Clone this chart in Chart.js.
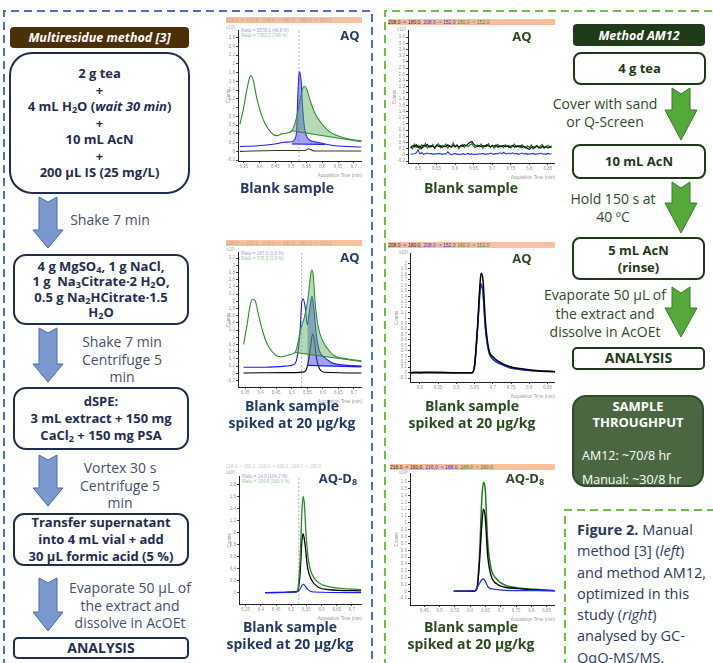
<!DOCTYPE html>
<html>
<head>
<meta charset="utf-8">
<script src="https://cdn.jsdelivr.net/npm/chart.js@4.4.0/dist/chart.umd.min.js"></script>
<style>
  body { margin: 0; width: 713px; height: 663px; position: relative; overflow: hidden; background: #fff;
         font-family: "Open Sans", "Noto Sans", sans-serif; }
  canvas { position: absolute; }
  .c { position: absolute; transform: translate(-50%, -50%); white-space: nowrap; text-align: center; }
  .box { position: absolute; box-sizing: border-box; border: 2px solid #1f2d50; display: flex; align-items: center;
         justify-content: center; text-align: center; font-weight: 700; color: #1f2d50; font-size: 13px; line-height: 16.5px; background: #fff; }
  .gbox { border-color: #1d3a17; color: #1d3a17; border-radius: 8px; }
  .hdr { position: absolute; color: #fff; font-weight: 700; font-style: italic; font-size: 12.5px; display: flex;
         align-items: center; justify-content: center; border-radius: 4px; }
  .step { color: #44506c; font-size: 14px; line-height: 17.5px; }
  .gstep { color: #2d4b27; font-size: 14px; line-height: 17.5px; }
  .cap { color: #233a66; font-weight: 700; font-size: 14px; line-height: 17px; }
  .gcap { color: #2a4a1f; font-weight: 700; font-size: 14px; line-height: 17px; }
  .bar { position: absolute; height: 6px; background: #f9c0a0; font: 5px "Liberation Sans", sans-serif; line-height: 6px; white-space: nowrap; overflow: hidden; }
  .tiny { position: absolute; font: 4.5px "Liberation Sans", sans-serif; white-space: nowrap; line-height: 5px; }
  sub { font-size: 0.7em; vertical-align: -0.25em; line-height: 0; }
  sup { font-size: 0.7em; vertical-align: 0.4em; line-height: 0; }
</style>
</head>
<body>

<svg width="713" height="663" style="position:absolute;left:0;top:0">
  <g fill="none" stroke-width="2" stroke-dasharray="8 5">
    <path d="M4 680 V11 H372 V680" stroke="#4472c4"/>
    <path d="M385 680 V11 H720" stroke="#6cbf4a"/>
    <path d="M565 680 V510 H720" stroke="#6cbf4a"/>
  </g>
  <g fill="#7b97cf" stroke="#4d6ba6" stroke-width="1">
    <polygon points="39,197 48,202 57,197 57,230 63,230 48,248 33,230 39,230"/>
    <polygon points="39,328 48,333 57,328 57,364 63,364 48,382 33,364 39,364"/>
    <polygon points="39,455 48,460 57,455 57,488 63,488 48,506 33,488 39,488"/>
    <polygon points="39,578 48,583 57,578 57,612 63,612 48,631 33,612 39,612"/>
  </g>
  <g fill="#55a83a" stroke="#3b7a28" stroke-width="1">
    <polygon points="672,88 681,94 690,88 690,110 697,110 681,140 665,110 672,110"/>
    <polygon points="672,182 681,188 690,182 690,203 697,203 681,233 665,203 672,203"/>
    <polygon points="672,287 681,293 690,287 690,308 697,308 681,337 665,308 672,308"/>
  </g>
</svg>

<!-- left flow -->
<div class="hdr" style="left:10px;top:27px;width:179px;height:21px;background:#4b2f06">Multiresidue method [3]</div>
<div class="box" style="left:9px;top:52px;width:181px;height:142px;border-radius:23px">
  <div>2 g tea<br>+<br>4 mL H<sub>2</sub>O (<i>wait 30 min</i>)<br>+<br>10 mL AcN<br>+<br>200 µL IS (25 mg/L)</div></div>
<div class="c step" style="left:110px;top:220px">Shake 7 min</div>
<div class="box" style="left:13px;top:254px;width:176px;height:71px;border-radius:13px;line-height:15.5px">
  <div>4 g MgSO<sub>4</sub>, 1 g NaCl,<br>1 g&nbsp; Na<sub>3</sub>Citrate·2 H<sub>2</sub>O,<br>0.5 g Na<sub>2</sub>HCitrate·1.5<br>H<sub>2</sub>O</div></div>
<div class="c step" style="left:122px;top:359px">Shake 7 min<br>Centrifuge 5<br>min</div>
<div class="box" style="left:13px;top:387px;width:176px;height:63px;border-radius:13px;line-height:17px">
  <div>dSPE:<br>3 mL extract + 150 mg<br>CaCl<sub>2</sub> + 150 mg PSA</div></div>
<div class="c step" style="left:120px;top:485px">Vortex 30 s<br>Centrifuge 5<br>min</div>
<div class="box" style="left:13px;top:513px;width:176px;height:53px;border-radius:11px;line-height:17px">
  <div>Transfer supernatant<br>into 4 mL vial + add<br>30 µL formic acid (5 %)</div></div>
<div class="c step" style="left:130px;top:605px">Evaporate 50 µL of<br>the extract and<br>dissolve in AcOEt</div>
<div class="box" style="left:13px;top:637px;width:176px;height:22px;border-radius:5px;font-size:14px">ANALYSIS</div>

<!-- right flow -->
<div class="hdr" style="left:573px;top:24px;width:132px;height:22px;background:#1e3a18">Method AM12</div>
<div class="box gbox" style="left:573px;top:52px;width:133px;height:33px">4 g tea</div>
<div class="c gstep" style="left:605px;top:112px">Cover with sand<br>or Q-Screen</div>
<div class="box gbox" style="left:572px;top:144px;width:134px;height:35px">10 mL AcN</div>
<div class="c gstep" style="left:613px;top:207px">Hold 150 s at<br>40 ºC</div>
<div class="box gbox" style="left:572px;top:237px;width:133px;height:43px;line-height:17px">5 mL AcN<br>(rinse)</div>
<div class="c gstep" style="left:605px;top:314px;line-height:18.5px">Evaporate 50 µL of<br>the extract and<br>dissolve in AcOEt</div>
<div class="box gbox" style="left:572px;top:347px;width:133px;height:23px;border-radius:5px;font-size:14px">ANALYSIS</div>

<div style="position:absolute;left:572px;top:395px;width:132px;height:92px;box-sizing:border-box;background:#4a6741;border:2px solid #2f4b28;border-radius:14px;color:#fff">
  <div style="position:absolute;left:0;right:0;top:1px;text-align:center;font-weight:700;font-size:13px;line-height:16px">SAMPLE<br>THROUGHPUT</div>
  <div style="position:absolute;left:8px;top:47px;font-size:12.5px;line-height:24px;white-space:nowrap">AM12: ~70/8 hr<br>Manual: ~30/8 hr</div>
</div>

<div style="position:absolute;left:577px;top:519px;color:#2b3a5c;font-size:14.5px;line-height:21.3px;white-space:nowrap">
  <b>Figure 2.</b> Manual<br>method [3] (<i>left</i>)<br>and method AM12,<br>optimized in this<br>study (<i>right</i>)<br>analysed by GC-<br>QqQ-MS/MS.
</div>

<!-- chromatogram decorations -->
<div class="bar" style="left:226px;top:17px;width:136px;color:#c9a58f">208,0 -&gt; 152,0 , 208,0 -&gt; 180,0 , 180,0 -&gt; 152,0</div>
<div class="bar" style="left:226px;top:240px;width:136px;color:#c9a58f">208,0 -&gt; 152,0 , 208,0 -&gt; 180,0 , 180,0 -&gt; 152,0</div>
<div class="tiny" style="left:226px;top:464px;color:#c8c8c8">216,0 -&gt; 160,0 , 218,0 -&gt; 168,0 , 168,0 -&gt; 160,0</div>
<div class="bar" style="left:388px;top:19px;width:167px"><span style="color:#222">208.0 -&gt; 180.0,</span> <span style="color:#3333cc">208.0 -&gt; 152.0</span> <span style="color:#2a8a2a">180.0 -&gt; 152.0</span></div>
<div class="bar" style="left:388px;top:242px;width:167px"><span style="color:#222">208.0 -&gt; 180.0,</span> <span style="color:#3333cc">208.0 -&gt; 152.0</span> <span style="color:#2a8a2a">180.0 -&gt; 152.0</span></div>
<div class="bar" style="left:390px;top:464px;width:165px"><span style="color:#222">216.0 -&gt; 160.0,</span> <span style="color:#3333cc">216.0 -&gt; 188.0,</span> <span style="color:#2a8a2a">188.0 -&gt; 160.0</span></div>

<div class="tiny" style="left:226px;top:25px;color:#aaa">x10<sup>5</sup></div>
<div class="tiny" style="left:226px;top:247px;color:#aaa">x10<sup>5</sup></div>
<div class="tiny" style="left:226px;top:470px;color:#aaa">x10<sup>5</sup></div>
<div class="tiny" style="left:397px;top:27px;color:#999">x10<sup>3</sup></div>
<div class="tiny" style="left:399px;top:250px;color:#999">x10<sup>5</sup></div>
<div class="tiny" style="left:399px;top:470px;color:#999">x10<sup>5</sup></div>

<div class="tiny" style="left:241px;top:28px;color:#a0a0f0">Ratio = 5578,3 (48,8 %)</div>
<div class="tiny" style="left:241px;top:33px;color:#9cc89c">Ratio = 7363,2 (748 %)</div>
<div class="tiny" style="left:241px;top:251px;color:#a0a0f0">Ratio = 187,0 (1,6 %)</div>
<div class="tiny" style="left:241px;top:256px;color:#9cc89c">Ratio = 378,3 (3,8 %)</div>
<div class="tiny" style="left:242px;top:474px;color:#a0a0f0">Ratio = 14,0 (104,2 %)</div>
<div class="tiny" style="left:242px;top:479px;color:#9cc89c">Ratio = 154,8 (100,9 %)</div>

<canvas id="m3Blank" width="136" height="151" style="left:226px;top:27px"></canvas>
<canvas id="m3Spiked" width="136" height="155" style="left:226px;top:249px"></canvas>
<canvas id="m3D8" width="135" height="148" style="left:227px;top:473px"></canvas>
<canvas id="amBlank" width="163" height="153" style="left:392px;top:27px"></canvas>
<canvas id="amSpiked" width="161" height="149" style="left:394px;top:250px"></canvas>
<canvas id="amD8" width="161" height="152" style="left:394px;top:470px"></canvas>

<div class="c cap" style="left:350px;top:35px;font-size:13px">AQ</div>
<div class="c cap" style="left:350px;top:257px;font-size:13px">AQ</div>
<div class="c cap" style="left:338px;top:478px;font-size:13px">AQ-D<sub>8</sub></div>
<div class="c gcap" style="left:522px;top:36px;font-size:13px">AQ</div>
<div class="c gcap" style="left:522px;top:258px;font-size:13px">AQ</div>
<div class="c gcap" style="left:525px;top:478px;font-size:13px">AQ-D<sub>8</sub></div>

<div class="c cap" style="left:287px;top:187px">Blank sample</div>
<div class="c cap" style="left:292px;top:414px">Blank sample<br>spiked at 20 µg/kg</div>
<div class="c cap" style="left:290px;top:635px">Blank sample<br>spiked at 20 µg/kg</div>
<div class="c gcap" style="left:471px;top:187px">Blank sample</div>
<div class="c gcap" style="left:472px;top:414px">Blank sample<br>spiked at 20 µg/kg</div>
<div class="c gcap" style="left:471px;top:635px">Blank sample<br>spiked at 20 µg/kg</div>

<script>
// ---- Multiresidue method [3] (left) : [time, counts] ----
const m3BlankGreen = [[6.337,0.62],[6.348,0.96],[6.359,1.4],[6.369,1.71],[6.372,1.73],[6.38,1.62],[6.39,1.24],[6.404,0.87],
  [6.417,0.64],[6.438,0.42],[6.454,0.36],[6.47,0.4],[6.486,0.42],[6.502,0.47],[6.512,0.62],[6.525,1.02],[6.536,1.42],
  [6.542,1.49],[6.55,1.42],[6.56,1.18],[6.576,0.87],[6.597,0.64],[6.619,0.47],[6.64,0.38],[6.68,0.29],[6.724,0.24]];
const m3BlankGreenBase = [[6.502,0.47],[6.724,0.22]];
const m3BlankBlue = [[6.337,0.11],[6.395,0.13],[6.448,0.17],[6.48,0.21],[6.502,0.22],[6.512,0.28],[6.518,0.5],[6.521,1.17],
  [6.525,1.73],[6.527,1.82],[6.532,1.62],[6.536,1.1],[6.542,0.58],[6.555,0.28],[6.576,0.22],[6.608,0.17],[6.64,0.13],[6.724,0.1]];
const m3BlankBlueBase = [[6.502,0.17],[6.608,0.16]];
const m3BlankBlack = [[6.337,0.0],[6.448,0.02],[6.545,0.02],[6.555,0.06],[6.563,0.04],[6.576,0.01],[6.64,0.01],[6.724,0.01]];

const m3SpikedGreen = [[6.345,0.8],[6.356,1.34],[6.366,1.88],[6.373,2.05],[6.382,2.02],[6.392,1.66],[6.405,1.21],[6.419,0.85],
  [6.435,0.62],[6.451,0.49],[6.467,0.46],[6.483,0.49],[6.499,0.53],[6.511,0.58],[6.52,0.85],[6.528,1.21],[6.541,1.57],
  [6.552,2.06],[6.56,2.69],[6.564,2.87],[6.569,2.74],[6.575,1.97],[6.584,1.34],[6.6,0.89],[6.621,0.62],[6.637,0.49],
  [6.68,0.4],[6.724,0.35]];
const m3SpikedGreenBase = [[6.511,0.58],[6.724,0.33]];
const m3SpikedBlue = [[6.345,0.17],[6.415,0.17],[6.479,0.2],[6.505,0.24],[6.515,0.35],[6.526,1.07],[6.533,2.02],[6.537,2.06],
  [6.544,1.79],[6.55,1.34],[6.558,1.79],[6.565,2.14],[6.571,1.79],[6.579,1.07],[6.589,0.62],[6.605,0.44],[6.626,0.31],
  [6.637,0.27],[6.724,0.2]];
const m3SpikedBlueBase = [[6.55,0.22],[6.724,0.18]];
const m3SpikedBlack = [[6.345,0.01],[6.499,0.02],[6.541,0.04],[6.552,0.26],[6.56,0.71],[6.567,1.09],[6.573,0.89],[6.579,0.44],
  [6.589,0.13],[6.605,0.03],[6.724,0.01]];

const m3D8Green = [[6.414,0],[6.512,0.005],[6.521,0.04],[6.529,0.52],[6.535,1.33],[6.539,1.6],[6.543,1.49],[6.549,0.95],
  [6.557,0.52],[6.568,0.31],[6.589,0.17],[6.622,0.1],[6.644,0.08],[6.73,0.05]];
const m3D8Black = [[6.414,0],[6.521,0.02],[6.529,0.31],[6.535,0.85],[6.539,0.98],[6.545,0.82],[6.554,0.41],[6.568,0.2],
  [6.589,0.09],[6.622,0.05],[6.73,0.03]];
const m3D8Blue = [[6.414,0],[6.519,0.01],[6.529,0.06],[6.537,0.13],[6.541,0.14],[6.547,0.1],[6.557,0.04],[6.573,0.01],[6.73,0]];

const m3RetentionTimes = [6.525, 6.532, 6.525];
const m3XTicks = [6.35, 6.4, 6.45, 6.5, 6.55, 6.6, 6.65, 6.7];
const m3BlankYTicks = [-0.2, 0, 0.2, 0.4, 0.6, 0.8, 1, 1.2, 1.4, 1.6, 1.8, 2, 2.2, 2.4, 2.6];
const m3SpikedYTicks = [-0.2, 0, 0.2, 0.4, 0.6, 0.8, 1, 1.2, 1.4, 1.6, 1.8, 2, 2.2, 2.4, 2.6, 2.8, 3, 3.2];
const m3D8YTicks = [0, 0.2, 0.4, 0.6, 0.8, 1, 1.2, 1.4, 1.6, 1.8];

// ---- Method AM12 (right) ----
const amBlankTimes = [6.480,6.485,6.490,6.495,6.500,6.505,6.510,6.515,6.520,6.525,
  6.530,6.535,6.540,6.545,6.550,6.555,6.560,6.565,6.570,6.575,
  6.580,6.585,6.590,6.595,6.600,6.605,6.610,6.615,6.620,6.625,
  6.630,6.635,6.640,6.645,6.650,6.655,6.660,6.665,6.670,6.675,
  6.680,6.685,6.690,6.695,6.700,6.705,6.710,6.715,6.720,6.725,
  6.730,6.735,6.740,6.745,6.750,6.755,6.760,6.765,6.770,6.775,
  6.780,6.785,6.790,6.795,6.800,6.805,6.810,6.815,6.820,6.825,
  6.830,6.835,6.840,6.845,6.850,6.855,6.860];
const amBlankBlack = [0.22,0.30,0.26,0.33,0.24,0.29,0.21,0.31,0.27,0.34,
  0.25,0.30,0.28,0.23,0.32,0.27,0.30,0.24,0.29,0.26,
  0.33,0.28,0.25,0.31,0.27,0.32,0.26,0.30,0.28,0.33,
  0.30,0.36,0.41,0.43,0.35,0.30,0.27,0.31,0.26,0.30,
  0.28,0.33,0.29,0.26,0.31,0.28,0.32,0.25,0.29,0.27,
  0.31,0.26,0.30,0.24,0.28,0.31,0.25,0.29,0.27,0.30,
  0.24,0.28,0.26,0.21,0.18,0.24,0.27,0.23,0.29,0.25,
  0.22,0.28,0.24,0.27,0.22,0.26,0.24];
const amBlankGreen = [0.27,0.20,0.35,0.24,0.31,0.19,0.33,0.26,0.37,0.22,
  0.30,0.25,0.34,0.21,0.29,0.36,0.23,0.31,0.27,0.35,
  0.22,0.30,0.26,0.38,0.25,0.32,0.20,0.29,0.34,0.24,
  0.31,0.27,0.33,0.36,0.28,0.24,0.32,0.26,0.35,0.22,
  0.30,0.27,0.36,0.24,0.31,0.21,0.29,0.34,0.26,0.30,
  0.23,0.33,0.27,0.31,0.22,0.29,0.35,0.25,0.30,0.24,
  0.33,0.27,0.21,0.29,0.24,0.32,0.19,0.27,0.31,0.23,
  0.29,0.34,0.22,0.28,0.31,0.25,0.30];
const amBlankBlue = [0.02,0.03,0.04,0.06,0.17,0.03,0.07,0.02,0.04,0.06,
  0.03,0.05,0.02,0.04,0.03,0.05,0.04,0.02,0.04,0.03,
  0.10,0.04,0.01,0.03,0.05,0.02,0.03,0.01,0.04,0.02,
  0.03,0.05,0.02,0.04,0.01,0.03,0.02,0.04,0.03,0.05,
  0.02,0.04,0.03,0.06,0.04,0.02,0.05,0.03,0.07,0.04,
  0.08,0.05,0.03,0.06,0.04,0.07,0.03,0.05,0.02,0.04,
  0.06,0.03,0.05,0.02,0.04,0.03,0.05,0.02,0.04,0.03,
  0.06,0.03,0.04,0.02,0.05,0.03,0.04];

const amSpikedBlack = [[6.473,0],[6.6,0],[6.642,0],[6.649,0.1],[6.658,0.86],[6.665,1.66],[6.668,1.82],[6.673,1.69],[6.679,0.98],
  [6.688,0.45],[6.702,0.28],[6.72,0.19],[6.747,0.11],[6.783,0.07],[6.819,0.04],[6.87,0.02]];
const amSpikedBlue = [[6.473,0],[6.5,0.01],[6.6,0],[6.642,0],[6.649,0.08],[6.658,0.82],[6.665,1.55],[6.667,1.63],[6.673,1.45],
  [6.679,0.84],[6.688,0.4],[6.702,0.23],[6.72,0.16],[6.747,0.09],[6.783,0.05],[6.819,0.03],[6.87,0.02]];
const amSpikedGreen = [[6.473,0],[6.49,0.01],[6.5,0],[6.525,0.015],[6.6,0],[6.642,0],[6.649,0.08],[6.658,0.8],[6.665,1.5],
  [6.668,1.59],[6.673,1.46],[6.679,0.86],[6.688,0.42],[6.702,0.24],[6.72,0.17],[6.747,0.09],[6.783,0.06],[6.819,0.03],[6.87,0.02]];

const amD8Green = [[6.546,0],[6.611,0],[6.622,0.06],[6.63,0.51],[6.638,1.37],[6.643,1.59],[6.649,1.48],[6.657,0.72],[6.668,0.34],
  [6.686,0.18],[6.714,0.09],[6.757,0.05],[6.812,0.03],[6.877,0.01]];
const amD8Black = [[6.546,0],[6.611,0],[6.622,0.04],[6.63,0.42],[6.638,0.99],[6.643,1.2],[6.649,1.08],[6.657,0.52],[6.668,0.23],
  [6.686,0.11],[6.714,0.06],[6.757,0.04],[6.812,0.02],[6.877,0.01]];
const amD8Blue = [[6.546,0],[6.616,0.01],[6.627,0.09],[6.638,0.17],[6.643,0.18],[6.65,0.14],[6.659,0.06],[6.681,0.03],[6.757,0.01],[6.877,0.01]];

const amXTicks = [6.5, 6.55, 6.6, 6.65, 6.7, 6.75, 6.8, 6.85];
const amD8XTicks = [6.45, 6.5, 6.55, 6.6, 6.65, 6.7, 6.75, 6.8, 6.85];
const amBlankYTicks = [-0.2, 0, 0.2, 0.4, 0.6, 0.8, 1, 1.2, 1.4, 1.6, 1.8, 2, 2.2, 2.4, 2.6, 2.8, 3, 3.2, 3.4, 3.6, 3.8];
const amSpikedYTicks = [-0.1, 0, 0.1, 0.2, 0.3, 0.4, 0.5, 0.6, 0.7, 0.8, 0.9, 1, 1.1, 1.2, 1.3, 1.4, 1.5, 1.6, 1.7, 1.8, 1.9, 2];
const amD8YTicks = [-0.1, 0, 0.1, 0.2, 0.3, 0.4, 0.5, 0.6, 0.7, 0.8, 0.9, 1, 1.1, 1.2, 1.3, 1.4, 1.5, 1.6];

// ---- helpers ----
const xy = a => a.map(p => ({ x: p[0], y: p[1] }));
const zipT = (t, v) => t.map((x, i) => ({ x: x, y: v[i] }));

function trace(points, color, extra) {
  return Object.assign({ data: points, borderColor: color, borderWidth: 1.1, pointRadius: 0, fill: false,
    cubicInterpolationMode: 'monotone' }, extra || {});
}
function areaOver(points, target, color) {
  return trace(points, 'rgba(0,0,0,0)', { fill: target, backgroundColor: color, borderWidth: 0 });
}
function marker(t, y0, y1) {
  return trace(xy([[t, y0], [t, y1]]), '#8f8fe8', { borderWidth: 0.7, borderDash: [2, 2], cubicInterpolationMode: 'default' });
}

function chromo(id, o) {
  const fmt = v => o.comma ? String(v).replace('.', ',') : String(v);
  const small = { size: 4.5, family: 'Liberation Sans' };
  const common = {
    type: 'linear',
    grid: { display: true, drawOnChartArea: false, drawTicks: true, tickLength: 2, color: '#444' },
    border: { display: true, color: '#222', width: 1 },
    ticks: { font: small, color: '#999', padding: 1, autoSkip: false, maxRotation: 0, callback: v => fmt(v) }
  };
  new Chart(document.getElementById(id), {
    type: 'line',
    data: { datasets: o.sets },
    options: {
      responsive: false, animation: false,
      layout: { padding: 0, autoPadding: false },
      plugins: { legend: { display: false }, tooltip: { enabled: false } },
      scales: {
        x: Object.assign({}, common, {
          min: o.x[0], max: o.x[1],
          afterBuildTicks: s => { s.ticks = o.xTicks.map(v => ({ value: v })); },
          afterFit: s => { s.height = 17; },
          title: { display: true, text: 'Acquisition Time (min)', align: 'end', font: small, color: '#999', padding: 0 }
        }),
        y: Object.assign({}, common, {
          min: o.y[0], max: o.y[1],
          afterBuildTicks: s => { s.ticks = o.yTicks.map(v => ({ value: v })); },
          afterFit: s => { s.width = o.yw; },
          title: { display: true, text: 'Counts', font: small, color: '#999', padding: 0 }
        })
      }
    }
  });
}

const m3Green = '#2a8a2a', m3Blue = '#1a1aff', m3Black = '#333';
const m3GreenFill = 'rgba(90,170,90,0.45)', m3BlueFill = 'rgba(70,70,230,0.5)';

chromo('m3Blank', {
  x: [6.331, 6.726], y: [-0.22, 2.76], yw: 12, comma: true, xTicks: m3XTicks, yTicks: m3BlankYTicks,
  sets: [
    trace(xy(m3BlankGreenBase), m3Green, { cubicInterpolationMode: 'default' }),
    areaOver(xy(m3BlankGreen.filter(p => p[0] >= 6.502)), 0, m3GreenFill),
    trace(xy(m3BlankBlueBase), m3Blue, { cubicInterpolationMode: 'default' }),
    areaOver(xy(m3BlankBlue.filter(p => p[0] >= 6.502 && p[0] <= 6.608)), 2, m3BlueFill),
    trace(xy(m3BlankGreen), m3Green),
    trace(xy(m3BlankBlue), m3Blue),
    trace(xy(m3BlankBlack), m3Black),
    marker(m3RetentionTimes[0], -0.22, 2.76)
  ]
});

chromo('m3Spiked', {
  x: [6.327, 6.726], y: [-0.38, 3.35], yw: 12, comma: true, xTicks: m3XTicks, yTicks: m3SpikedYTicks,
  sets: [
    trace(xy(m3SpikedGreenBase), m3Green, { cubicInterpolationMode: 'default' }),
    areaOver(xy(m3SpikedGreen.filter(p => p[0] >= 6.511)), 0, m3GreenFill),
    trace(xy(m3SpikedBlueBase), m3Blue, { cubicInterpolationMode: 'default' }),
    areaOver(xy(m3SpikedBlue.filter(p => p[0] >= 6.55)), 2, m3BlueFill),
    trace(xy(m3SpikedGreen), m3Green),
    trace(xy(m3SpikedBlue), m3Blue),
    trace(xy(m3SpikedBlack), '#000'),
    marker(m3RetentionTimes[1], -0.38, 3.35)
  ]
});

chromo('m3D8', {
  x: [6.328, 6.733], y: [-0.19, 1.93], yw: 12, comma: true, xTicks: m3XTicks, yTicks: m3D8YTicks,
  sets: [
    trace(xy(m3D8Blue), m3Blue),
    trace(xy(m3D8Green), m3Green, { borderWidth: 1.3 }),
    trace(xy(m3D8Black), '#000', { borderWidth: 1.3 }),
    marker(m3RetentionTimes[2], -0.19, 1.93)
  ]
});

const amGreen = '#1e7d1e', amBlue = '#2233ee';

chromo('amBlank', {
  x: [6.473, 6.869], y: [-0.26, 4.01], yw: 16, comma: false, xTicks: amXTicks, yTicks: amBlankYTicks,
  sets: [
    trace(zipT(amBlankTimes, amBlankBlue), amBlue, { cubicInterpolationMode: 'default' }),
    trace(zipT(amBlankTimes, amBlankBlack), '#000', { cubicInterpolationMode: 'default' }),
    trace(zipT(amBlankTimes, amBlankGreen), amGreen, { cubicInterpolationMode: 'default', borderWidth: 1.2 })
  ]
});

chromo('amSpiked', {
  x: [6.473, 6.87], y: [-0.17, 2.18], yw: 16, comma: false, xTicks: amXTicks, yTicks: amSpikedYTicks,
  sets: [
    trace(xy(amSpikedBlack), '#000', { borderWidth: 1.5 }),
    trace(xy(amSpikedBlue), amBlue, { borderWidth: 1.4 }),
    trace(xy(amSpikedGreen), amGreen, { borderWidth: 1.4 })
  ]
});

chromo('amD8', {
  x: [6.403, 6.877], y: [-0.2, 1.72], yw: 16, comma: false, xTicks: amD8XTicks, yTicks: amD8YTicks,
  sets: [
    trace(xy(amD8Blue), amBlue, { borderWidth: 1.3 }),
    trace(xy(amD8Black), '#000', { borderWidth: 1.4 }),
    trace(xy(amD8Green), amGreen, { borderWidth: 1.5 })
  ]
});
</script>
</body>
</html>
